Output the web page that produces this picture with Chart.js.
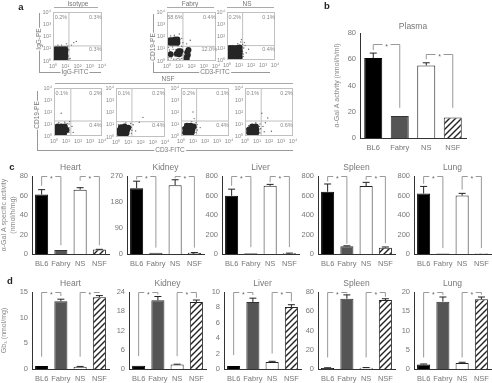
<!DOCTYPE html>
<html>
<head>
<meta charset="utf-8">
<script src="https://cdn.jsdelivr.net/npm/chart.js@4"></script>
<style>
  html, body { margin: 0; background: #fff; }
  #page { position: relative; width: 492px; height: 383px; overflow: hidden; filter: blur(0.4px); font-family: "Liberation Sans", sans-serif; color: #777; }
  canvas { position: absolute; }
  .txt { position: absolute; white-space: nowrap; transform: translate(-50%, -50%); background: #fff; padding: 0 1px; line-height: 1; }
  .rot { transform: translate(-50%, -50%) rotate(-90deg); }
  .letter { background: none; color: #222; font-weight: bold; font-size: 9.5px; }
  .ln { position: absolute; background: #888; }
</style>
</head>
<body>
<div id="page"></div>
<script>
const groups = ["BL6", "Fabry", "NS", "NSF"];
const sup = ["⁰", "¹", "²", "³", "⁴"];

// panel b
const plasmaVals = [61, 16.7, 55.3, 15.7];
const plasmaHi = [64.7, 16.7, 57.3, 15.7];

// panel c, alpha-Gal A specific activity
const cHeartVals = [61, 4, 66, 4.5];
const cHeartHi = [66, 4, 68, 4.8];
const cKidneyVals = [228, 4, 238, 4];
const cKidneyHi = [252, 4, 257, 5];
const cLiverVals = [597, 8, 700, 8];
const cLiverHi = [665, 8, 714, 9];
const cSpleenVals = [638, 80, 697, 65];
const cSpleenHi = [718, 84, 735, 72];
const cLungVals = [620, 6, 600, 6];
const cLungHi = [693, 6, 622, 6];

// panel d, Gb3
const dHeartVals = [0.6, 13.2, 0.45, 14];
const dHeartHi = [0.6, 13.6, 0.5, 14.3];
const dKidneyVals = [1, 21.4, 1.4, 20.9];
const dKidneyHi = [1, 22.6, 1.5, 21.5];
const dLiverVals = [0.4, 8.7, 0.9, 8.05];
const dLiverHi = [0.4, 9.2, 1, 8.35];
const dSpleenVals = [1, 73, 1.4, 71.6];
const dSpleenHi = [1.3, 77, 1.5, 73];
const dLungVals = [1.2, 17.5, 1.55, 18.1];
const dLungHi = [1.3, 18.7, 1.75, 18.7];

// flow panels, positions in decades: dense core and stray events
const isoCore = [[.25,.25],[.5,.25],[.75,.25],[1,.25],[.25,.5],[.5,.5],[.75,.5],[1,.5],[.25,.75],[.5,.75],[.75,.75],[1,.75],[.25,.95],[.5,.95],[.75,.95],[1,.95]];
const isoStray = [[1.25,.4],[1.3,.9],[1.2,1.2],[1.5,1.3],[1.7,1.5],[1.9,1.6],[.7,1.3],[.4,1.3],[1.4,.2],[1.1,1.4],[1.3,.15],[.05,.6],[.05,.2]];
const fabryCore = [[.25,1.5],[.45,1.5],[.65,1.5],[.85,1.5],[.25,1.7],[.45,1.7],[.65,1.75],[.85,1.75],[.3,.55],[.8,.6],[1,.55],[1.1,.8],[1.6,.3],[1.7,.5],[1.65,.7],[1.75,.9],[1.6,.15],[.95,.8]];
const fabryStray = [[.1,.15],[.2,.9],[.35,.25],[.5,.95],[.55,.15],[.65,.4],[.15,.5],[.9,.2],[1.05,.15],[.1,1.1],[.45,1.15],[.9,1.25],[1.2,1.2],[1.3,1.5],[1.6,1.4],[1.9,1.7],[1.2,1.85],[.6,2.1],[.3,2.05],[1,2.2],[.25,.75],[.7,.9],[.45,.45],[.15,.3],[.4,.7],[.75,.15],[1.2,.2],[1.3,.5]];
const nsCore = [[.25,.25],[.5,.25],[.75,.25],[1.05,.25],[.25,.5],[.5,.5],[.75,.5],[1.05,.55],[.25,.75],[.5,.75],[.75,.75],[1.05,.8],[.25,1],[.5,1],[.8,1],[1.05,1.05]];
const nsStray = [[1.35,.3],[1.3,.7],[1.4,1],[1.3,1.3],[1.45,1.45],[1.15,1.5],[1.6,.6],[.9,1.35],[1.8,.9],[1.2,1.7],[1.35,.5],[1.5,1.2]];
const nsf1Core = [[.3,.25],[.55,.25],[.85,.25],[.25,.5],[.55,.5],[.85,.5],[.3,.8],[.6,.8],[.9,.8],[1.05,.5]];
const nsf1Stray = [[1.25,.3],[1.25,.7],[1.25,1],[1.3,1.2],[.9,1.15],[1.5,.8],[.6,1.9],[1.6,.3],[.4,1.1],[.05,.4],[.1,.9],[1.1,1.05]];
const nsf2Core = [[.3,.3],[.55,.25],[.85,.3],[.3,.55],[.6,.55],[.9,.55],[.4,.8],[.7,.85],[1,.75]];
const nsf2Stray = [[.1,.15],[.1,.7],[1.25,.3],[1.25,.8],[1.2,1.1],[1.4,1],[1.6,.5],[1.9,1.2],[.8,1.15],[2.2,1.6],[.2,1],[1.3,.55]];
const nsf3Core = [[.35,.3],[.6,.25],[.9,.3],[.35,.6],[.65,.55],[.95,.55],[.5,.85],[.8,.85],[1.05,.8]];
const nsf3Stray = [[.1,.2],[.15,.7],[1.25,.3],[1.3,.7],[1.25,1.1],[1.35,.95],[.9,1.2],[1.1,1.45],[1.6,.7],[1,2],[.3,1],[1.35,.5]];
const nsf4Core = [[.35,.3],[.65,.25],[.95,.3],[.35,.55],[.65,.55],[.95,.55],[.6,.8],[.9,.8]];
const nsf4Stray = [[.1,.2],[.15,.6],[1.25,.25],[1.3,.6],[1.25,1],[1.5,.8],[1.6,.35],[1.7,1.1],[1.9,1.5],[.9,1.1],[1.4,1.9],[2.2,.4],[.3,.85],[1.2,.8]];

const isoPct = ["0.2%", "0.3%", "0.3%"];
const fabryPct = ["58.6%", "0.4%", "12.0%"];
const nsPct = ["0.2%", "0.1%", "0.4%"];
const nsf1Pct = ["0.1%", "0.2%", "0.4%"];
const nsf2Pct = ["0.1%", "0.2%", "0.4%"];
const nsf3Pct = ["0.2%", "0.1%", "0.4%"];
const nsf4Pct = ["0.1%", "0.2%", "0.6%"];

const page = document.getElementById("page");

function addCanvas(left, top, w, h) {
  const c = document.createElement("canvas");
  c.width = w;
  c.height = h;
  c.style.cssText = `left:${left}px;top:${top}px;width:${w}px;height:${h}px`;
  page.appendChild(c);
  return c.getContext("2d");
}

function addText(str, x, y, size, cls) {
  const d = document.createElement("div");
  d.className = "txt " + (cls || "");
  d.style.cssText = `left:${x}px;top:${y}px;font-size:${size}px`;
  d.textContent = str;
  page.appendChild(d);
}

function addLine(x, y, w, h, color) {
  const d = document.createElement("div");
  d.className = "ln";
  d.style.cssText = `left:${x}px;top:${y}px;width:${w}px;height:${h}px;background:${color || "#888"}`;
  page.appendChild(d);
}

function hatch() {
  const c = document.createElement("canvas");
  c.width = c.height = 6;
  const g = c.getContext("2d");
  g.fillStyle = "#fff";
  g.fillRect(0, 0, 6, 6);
  g.strokeStyle = "#222";
  g.lineWidth = 1.4;
  g.beginPath();
  g.moveTo(-1, 1); g.lineTo(1, -1);
  g.moveTo(0, 6); g.lineTo(6, 0);
  g.moveTo(5, 7); g.lineTo(7, 5);
  g.stroke();
  return g.createPattern(c, "repeat");
}

// error bars and significance brackets, drawn through the chart's scales
const barExtras = {
  id: "barExtras",
  afterDatasetsDraw(chart, args, opts) {
    if (!opts.hi) return;
    const g = chart.ctx, x = chart.scales.x, y = chart.scales.y;
    g.save();
    g.strokeStyle = "#222";
    g.lineWidth = 1;
    opts.hi.forEach((h, i) => {
      const v = chart.data.datasets[0].data[i];
      if (h <= v) return;
      const px = x.getPixelForValue(i);
      g.beginPath();
      g.moveTo(px, y.getPixelForValue(v));
      g.lineTo(px, y.getPixelForValue(h));
      g.moveTo(px - 3.5, y.getPixelForValue(h));
      g.lineTo(px + 3.5, y.getPixelForValue(h));
      g.stroke();
    });
    g.strokeStyle = "#999";
    g.fillStyle = "#666";
    g.font = "7px 'Liberation Sans'";
    g.textAlign = "center";
    opts.brackets.forEach(b => {
      const x1 = x.getPixelForValue(b[0]), x2 = x.getPixelForValue(b[1]);
      const top = y.getPixelForValue(b[2]) + 0.5;
      const mid = (x1 + x2) / 2;
      g.beginPath();
      g.moveTo(x1, y.getPixelForValue(b[3]));
      g.lineTo(x1, top);
      g.lineTo(mid - 4, top);
      g.moveTo(mid + 4, top);
      g.lineTo(x2, top);
      g.lineTo(x2, y.getPixelForValue(b[4]));
      g.stroke();
      g.fillText("*", mid, top + 4);
    });
    g.fillStyle = "#777";
    g.font = "8.5px 'Liberation Sans'";
    g.fillText(opts.title, (chart.chartArea.left + chart.chartArea.right) / 2, chart.chartArea.top - opts.titleGap);
    g.restore();
  }
};

// box, percentages for the flow plots
const flowExtras = {
  id: "flowExtras",
  afterDatasetsDraw(chart, args, opts) {
    if (!opts.pct) return;
    const g = chart.ctx, a = chart.chartArea, x = chart.scales.x, y = chart.scales.y;
    g.save();
    g.strokeStyle = "#c0c0c0";
    g.strokeRect(a.left + 0.5, a.top + 0.5, a.width - 1, a.height - 1);
    g.fillStyle = "#888";
    g.font = "5.5px 'Liberation Sans'";
    g.textAlign = "center";
    g.textBaseline = "middle";
    g.fillText(opts.pct[0], x.getPixelForValue(0.65), y.getPixelForValue(3.55));
    g.fillText(opts.pct[1], x.getPixelForValue(3.45), y.getPixelForValue(3.55));
    g.fillText(opts.pct[2], x.getPixelForValue(3.45), y.getPixelForValue(0.9));
    g.restore();
  }
};

Chart.register(barExtras, flowExtras);
Chart.defaults.font.family = "'Liberation Sans', sans-serif";
Chart.defaults.color = "#777";
Chart.defaults.animation = false;

function barPanel(p) {
  const padTop = 14, axisW = p.axisW || 22;
  const ctx = addCanvas(p.start - axisW, p.top - padTop, axisW + p.plotW + 1, padTop + p.plotH + 18);
  new Chart(ctx, {
    type: "bar",
    data: {
      labels: groups,
      datasets: [{
        data: p.vals,
        backgroundColor: ["#000", "#555", "#fff", hatch()],
        borderColor: ["#000", "#333", "#222", "#222"],
        borderWidth: 1,
        barPercentage: 0.68,
        categoryPercentage: 1
      }]
    },
    options: {
      responsive: false,
      layout: { padding: { top: padTop, right: 1, left: 0, bottom: 0 }, autoPadding: false },
      plugins: {
        legend: { display: false },
        tooltip: { enabled: false },
        barExtras: { hi: p.hi, brackets: p.brackets, title: p.title, titleGap: p.titleGap || 6 }
      },
      scales: {
        x: {
          grid: { display: false, tickLength: 3, tickColor: "#333" },
          border: { color: "#333" },
          ticks: { font: { size: 7.5 }, padding: 2, maxRotation: 0, autoSkip: false },
          afterFit(s) { s.height = 18; }
        },
        y: {
          min: 0,
          max: p.max,
          grid: { display: false, tickLength: 3, tickColor: "#333" },
          border: { color: "#333" },
          ticks: { stepSize: p.step, font: { size: 7.5 }, padding: 1, autoSkip: false },
          title: { display: !!p.yTitle, text: p.yTitle, font: { size: 7 }, padding: 0, color: "#888" },
          afterFit(s) { s.width = axisW; }
        }
      }
    }
  });
}

function flowPanel(p) {
  const pad = 8, axisW = 14;
  const ctx = addCanvas(p.box - axisW, p.top - pad, axisW + p.size + pad, pad + p.size + 11);
  const qx = p.qx, qy = p.qy;
  new Chart(ctx, {
    type: "scatter",
    data: {
      datasets: [
        { data: p.core.map(e => ({ x: e[0], y: e[1] })), pointRadius: 3, backgroundColor: "#262626", borderWidth: 0 },
        { data: p.stray.map(e => ({ x: e[0], y: e[1] })), pointRadius: 0.7, backgroundColor: "#666", borderWidth: 0 },
        { data: [{ x: qx, y: 0 }, { x: qx, y: 4 }], showLine: true, pointRadius: 0, borderColor: "#c0c0c0", borderWidth: 1 },
        { data: [{ x: 0, y: qy }, { x: 4, y: qy }], showLine: true, pointRadius: 0, borderColor: "#c0c0c0", borderWidth: 1 }
      ]
    },
    options: {
      responsive: false,
      layout: { padding: { top: pad, right: pad, left: 0, bottom: 0 }, autoPadding: false },
      plugins: { legend: { display: false }, tooltip: { enabled: false }, flowExtras: { pct: p.pct } },
      scales: {
        x: {
          min: 0, max: 4,
          grid: { display: false, tickLength: 1 },
          border: { display: false },
          ticks: { stepSize: 1, font: { size: 5.5 }, color: "#888", padding: 1, maxRotation: 0, callback: v => "10" + sup[v] },
          afterFit(s) { s.height = 11; }
        },
        y: {
          min: 0, max: 4,
          grid: { display: false, tickLength: 1 },
          border: { display: false },
          ticks: { stepSize: 1, font: { size: 5.5 }, color: "#888", padding: 1, callback: v => "10" + sup[v] },
          afterFit(s) { s.width = axisW; }
        }
      }
    }
  });
}

// panel a
flowPanel({ box: 53, top: 12, size: 49, qx: 1.3, qy: 1.23, core: isoCore, stray: isoStray, pct: isoPct });
flowPanel({ box: 167, top: 12, size: 49, qx: 1.3, qy: 1.2, core: fabryCore, stray: fabryStray, pct: fabryPct });
flowPanel({ box: 227, top: 12, size: 48, qx: 1.3, qy: 1.2, core: nsCore, stray: nsStray, pct: nsPct });
flowPanel({ box: 54, top: 88, size: 48, qx: 1.4, qy: 1.25, core: nsf1Core, stray: nsf1Stray, pct: nsf1Pct });
flowPanel({ box: 116, top: 88, size: 49, qx: 1.3, qy: 1.25, core: nsf2Core, stray: nsf2Stray, pct: nsf2Pct });
flowPanel({ box: 181, top: 88, size: 48, qx: 1.3, qy: 1.25, core: nsf3Core, stray: nsf3Stray, pct: nsf3Pct });
flowPanel({ box: 245, top: 88, size: 48, qx: 1.35, qy: 1.25, core: nsf4Core, stray: nsf4Stray, pct: nsf4Pct });

// panel a headers and the long axis arrows
addText("Isotype", 78, 3.5, 6.5);
addLine(54, 7, 44, 1, "#aaa");
addText("Fabry", 190, 3.5, 6.5);
addLine(167, 7, 47, 1, "#aaa");
addText("NS", 247, 3.5, 6.5);
addLine(227, 7, 47, 1, "#aaa");
addText("NSF", 168, 79, 6.5);
addLine(55, 83, 238, 1, "#aaa");

addLine(39, 13, 1, 59, "#999");
addLine(39, 72, 62, 1, "#999");
addText("IgG-PE", 39, 39, 6.5, "rot");
addText("IgG-FITC", 75, 72, 6.5);
addLine(153, 14, 1, 58, "#999");
addLine(153, 72, 117, 1, "#999");
addText("CD19-PE", 153, 47, 6.5, "rot");
addText("CD3-FITC", 215, 72, 6.5);
addLine(37, 91, 1, 60, "#999");
addLine(37, 150, 256, 1, "#999");
addText("CD19-PE", 37, 115, 6.5, "rot");
addText("CD3-FITC", 170, 150, 6.5);

addText("a", 21, 7, 9.5, "letter");
addText("b", 327, 6, 9.5, "letter");
addText("c", 12, 167, 9.5, "letter");
addText("d", 10, 281, 9.5, "letter");

// panel b
barPanel({
  start: 360, axisW: 27, top: 33, plotH: 105, plotW: 106, title: "Plasma", titleGap: 4,
  yTitle: "α-Gal A activity (nmol/h/ml)", max: 80, step: 20, vals: plasmaVals, hi: plasmaHi,
  brackets: [[0, 1, 71.6, 67, 23], [2, 3, 64, 60, 23]]
});

// panel c
barPanel({
  start: 32, axisW: 32, top: 176, plotH: 78, plotW: 77, title: "Heart",
  yTitle: ["α-Gal A specific activity", "(nmol/h/mg)"], max: 80, step: 20, vals: cHeartVals, hi: cHeartHi,
  brackets: [[0, 1, 80, 70, 9], [2, 3, 80, 75, 9]]
});
barPanel({
  start: 127, top: 176, plotH: 78, plotW: 77, title: "Kidney", max: 270, step: 90, vals: cKidneyVals, hi: cKidneyHi,
  brackets: [[0, 1, 270, 258, 22], [2, 3, 270, 262, 22]]
});
barPanel({
  start: 222, top: 176, plotH: 78, plotW: 77, title: "Liver", max: 800, step: 200, vals: cLiverVals, hi: cLiverHi,
  brackets: [[0, 1, 800, 700, 70], [2, 3, 800, 735, 70]]
});
barPanel({
  start: 318, top: 176, plotH: 78, plotW: 77, title: "Spleen", max: 800, step: 200, vals: cSpleenVals, hi: cSpleenHi,
  brackets: [[0, 1, 800, 745, 105], [2, 3, 800, 760, 110]]
});
barPanel({
  start: 414, top: 176, plotH: 78, plotW: 77, title: "Lung", max: 800, step: 200, vals: cLungVals, hi: cLungHi,
  brackets: [[0, 1, 800, 720, 60], [2, 3, 800, 660, 60]]
});

// panel d
barPanel({
  start: 32, axisW: 32, top: 292, plotH: 77, plotW: 77, title: "Heart",
  yTitle: "Gb₃ (nmol/mg)", max: 15, step: 5, vals: dHeartVals, hi: dHeartHi,
  brackets: [[0, 1, 15, 2.4, 14.2], [2, 3, 15, 2.4, 14.8]]
});
barPanel({
  start: 129, top: 292, plotH: 77, plotW: 77, title: "Kidney", max: 24, step: 6, vals: dKidneyVals, hi: dKidneyHi,
  brackets: [[0, 1, 24, 4, 23.2], [2, 3, 24, 4, 22.2]]
});
barPanel({
  start: 224, top: 292, plotH: 77, plotW: 77, title: "Liver", max: 10, step: 2, vals: dLiverVals, hi: dLiverHi,
  brackets: [[0, 1, 10, 1.8, 9.6], [2, 3, 10, 2, 8.8]]
});
barPanel({
  start: 318, top: 292, plotH: 77, plotW: 77, title: "Spleen", max: 80, step: 20, vals: dSpleenVals, hi: dSpleenHi,
  brackets: [[0, 1, 80, 12, 78.5], [2, 3, 80, 12, 75]]
});
barPanel({
  start: 414, top: 292, plotH: 77, plotW: 77, title: "Lung", max: 20, step: 5, vals: dLungVals, hi: dLungHi,
  brackets: [[0, 1, 20, 3, 19.2], [2, 3, 20, 3, 19.3]]
});
</script>
</body>
</html>
